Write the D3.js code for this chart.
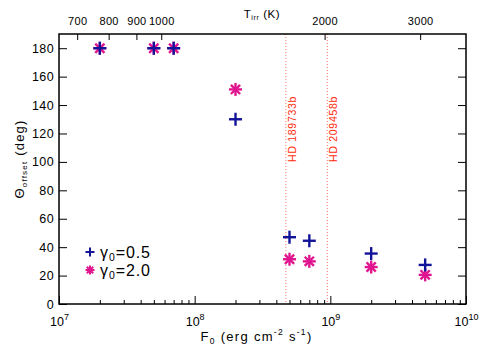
<!DOCTYPE html>
<html>
<head>
<meta charset="utf-8">
<script src="https://cdn.jsdelivr.net/npm/d3@7"></script>
<style>
  body { margin: 0; background: #fff; }
  text { font-family: "Liberation Sans", Arial, sans-serif; }
</style>
</head>
<body>
<div id="js_chart"></div>
<script>
// Data
const fluxes   = [2e7, 5e7, 7e7, 2e8, 5e8, 7e8, 2e9, 5e9];
const gamma05  = [180, 180, 180, 130, 47, 44.5, 35.5, 27.5];
const gamma20  = [180, 180, 180, 151, 31.5, 30, 26, 20.5];
const planets  = [{name: "HD 189733b", f: 4.7e8}, {name: "HD 209458b", f: 9.5e8}];
const yTicks   = [0, 20, 40, 60, 80, 100, 120, 140, 160, 180];
const tTicks   = [700, 800, 900, 1000, 2000, 3000];
const sigma = 5.67e-5;

const W = 491, H = 350;
const margin = {top: 34, right: 25, bottom: 46, left: 59};
const width = W - margin.left - margin.right,
      height = H - margin.top - margin.bottom;

const x = d3.scaleLog().domain([1e7, 1e10]).range([0, width]);
const xT = d3.scaleLog()
    .domain([Math.pow(1e7 / sigma, 0.25), Math.pow(1e10 / sigma, 0.25)])
    .range([0, width]);
const y = d3.scaleLinear().domain([0, 190]).range([height, 0]);

const svg = d3.select("#js_chart").append("svg")
    .attr("width", W).attr("height", H);
const g = svg.append("g").attr("transform", "translate(" + margin.left + "," + margin.top + ")");

// Planet lines
planets.forEach(function (p) {
    g.append("line")
        .attr("x1", x(p.f)).attr("x2", x(p.f))
        .attr("y1", 0).attr("y2", height)
        .attr("stroke", "#ff7a66").attr("stroke-width", 1)
        .attr("stroke-dasharray", "1,2");
    g.append("text")
        .attr("transform", "translate(" + (x(p.f) + 10) + "," + (y(100)) + ") rotate(-90)")
        .attr("font-size", 10.5).attr("fill", "#ff2a0a")
        .attr("text-anchor", "start")
        .attr("letter-spacing", 0.7)
        .text(p.name);
});

// Axes
function styleAxis(sel) {
    sel.select(".domain").remove();
    sel.selectAll("line").attr("stroke", "#000").attr("stroke-width", 1);
    sel.selectAll("text").attr("fill", "#000").attr("font-size", 12.5).attr("letter-spacing", 0.4);
}

// bottom
const minor = [];
[1e7, 1e8, 1e9].forEach(function (d) { for (let k = 2; k <= 9; k++) minor.push(d * k); });
g.append("g").attr("transform", "translate(0," + height + ")")
    .call(d3.axisBottom(x).tickValues(minor).tickSize(-4).tickFormat(""))
    .call(styleAxis);
const xb = g.append("g").attr("transform", "translate(0," + height + ")")
    .call(d3.axisBottom(x).tickValues([1e7, 1e8, 1e9, 1e10]).tickSize(-8).tickFormat(""))
    .call(styleAxis);
xb.selectAll(".tick").append("text")
    .attr("y", 22).attr("text-anchor", "middle").attr("font-size", 12.5).attr("fill", "#000")
    .each(function (d) {
        const t = d3.select(this);
        t.append("tspan").text("10");
        t.append("tspan").attr("dy", -6).attr("font-size", 9).text(Math.round(Math.log10(d)));
    });

// top
const xt = g.append("g")
    .call(d3.axisTop(xT).tickValues(tTicks).tickSize(-6).tickPadding(9).tickFormat(d3.format("d")))
    .call(styleAxis);
xt.selectAll("text").attr("font-size", 11).attr("letter-spacing", 0.3);

// left & right
g.append("g")
    .call(d3.axisLeft(y).tickValues(yTicks).tickSize(-8).tickPadding(5))
    .call(styleAxis);
g.append("g").attr("transform", "translate(" + width + ",0)")
    .call(d3.axisRight(y).tickValues(yTicks).tickSize(-8).tickFormat(""))
    .call(styleAxis);

// frame
g.append("rect").attr("width", width).attr("height", height)
    .attr("fill", "none").attr("stroke", "#000").attr("stroke-width", 1.5);

// Markers
function star(sel, r, sw) {
    [0, 45, 90, 135].forEach(function (a) {
        const rad = a * Math.PI / 180;
        sel.append("line")
            .attr("x1", -r * Math.cos(rad)).attr("y1", -r * Math.sin(rad))
            .attr("x2", r * Math.cos(rad)).attr("y2", r * Math.sin(rad))
            .attr("stroke", "#e0158f").attr("stroke-width", sw);
    });
}
function plus(sel, r, sw) {
    sel.append("line").attr("x1", -r).attr("x2", r).attr("y1", 0).attr("y2", 0)
        .attr("stroke", "#13139a").attr("stroke-width", sw);
    sel.append("line").attr("x1", 0).attr("x2", 0).attr("y1", -r).attr("y2", r)
        .attr("stroke", "#13139a").attr("stroke-width", sw);
}

g.selectAll(".s20").data(fluxes).enter().append("g")
    .attr("transform", function (d, i) { return "translate(" + x(d) + "," + y(gamma20[i]) + ")"; })
    .each(function () { star(d3.select(this), 6.5, 2.4); });
g.selectAll(".s05").data(fluxes).enter().append("g")
    .attr("transform", function (d, i) { return "translate(" + x(d) + "," + y(gamma05[i]) + ")"; })
    .each(function () { plus(d3.select(this), 6.5, 2.4); });

// Legend
const lg = g.append("g").attr("transform", "translate(31," + (252 - margin.top) + ")");
plus(lg.append("g"), 4.5, 2);
star(lg.append("g").attr("transform", "translate(0,18)"), 4.5, 2);
[["0.5", 0], ["2.0", 18]].forEach(function (e) {
    const t = lg.append("text").attr("x", 10).attr("y", e[1] + 6)
        .attr("font-size", 16).attr("fill", "#000").attr("letter-spacing", 0.9);
    t.append("tspan").text("γ");
    t.append("tspan").attr("font-size", 10.5).attr("dy", 3).text("0");
    t.append("tspan").attr("dy", -3).text("=" + e[0]);
});

// Axis titles
const xl = svg.append("text")
    .attr("x", margin.left + width / 2 - 6).attr("y", 341)
    .attr("text-anchor", "middle").attr("font-size", 13).attr("fill", "#000")
    .attr("letter-spacing", 1.3);
xl.append("tspan").text("F");
xl.append("tspan").attr("font-size", 8.5).attr("dy", 3).text("0");
xl.append("tspan").attr("dy", -3).text(" (erg cm");
xl.append("tspan").attr("font-size", 8.5).attr("dy", -6).text("-2");
xl.append("tspan").attr("dy", 6).text(" s");
xl.append("tspan").attr("font-size", 8.5).attr("dy", -6).text("-1");
xl.append("tspan").attr("dy", 6).text(")");

const tl = svg.append("text")
    .attr("x", 262).attr("y", 18)
    .attr("text-anchor", "middle").attr("font-size", 11.5).attr("fill", "#000")
    .attr("letter-spacing", 0.6);
tl.append("tspan").text("T");
tl.append("tspan").attr("font-size", 7).attr("dy", 2).text("irr");
tl.append("tspan").attr("dy", -2).text(" (K)");

const yl = svg.append("text")
    .attr("transform", "translate(24," + (margin.top + height / 2 - 10) + ") rotate(-90)")
    .attr("text-anchor", "middle").attr("font-size", 13).attr("fill", "#000")
    .attr("letter-spacing", 1.2);
yl.append("tspan").text("Θ");
yl.append("tspan").attr("font-size", 8).attr("dy", 3).text("offset");
yl.append("tspan").attr("dy", -3).text(" (deg)");
</script>
</body>
</html>
